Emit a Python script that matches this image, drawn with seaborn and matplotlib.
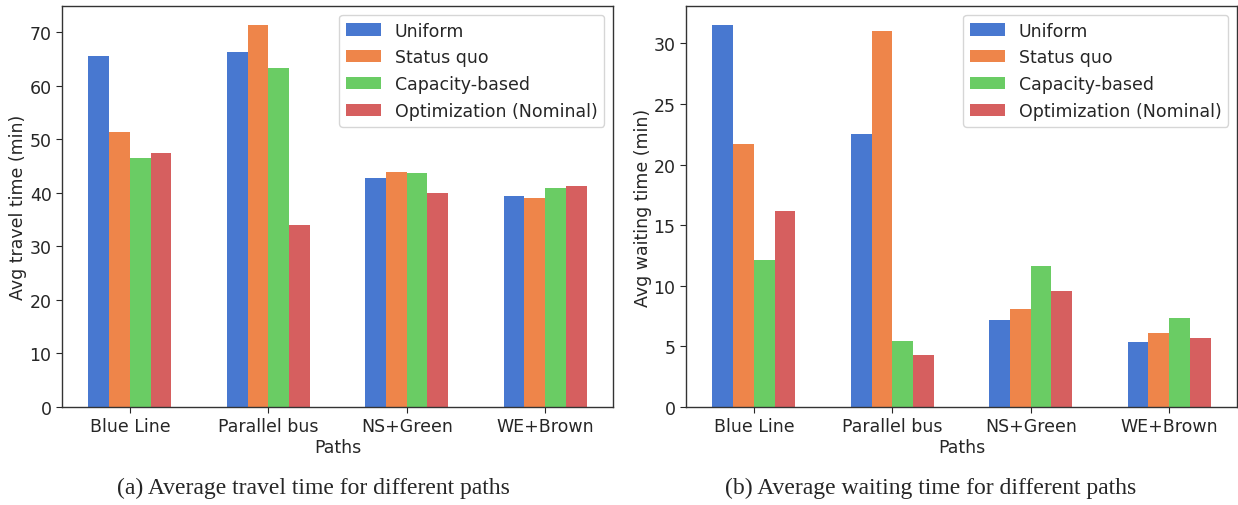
import numpy as np
import pandas as pd
import matplotlib
matplotlib.use("Agg")
import matplotlib.pyplot as plt
import seaborn as sns

paths = ["Blue Line", "Parallel bus", "NS+Green", "WE+Brown"]
strategies = ["Uniform", "Status quo", "Capacity-based", "Optimization (Nominal)"]

# Average travel time (min), one list per strategy, ordered as `paths`
travel_uniform = [65.5, 66.3, 42.8, 39.4]
travel_status_quo = [51.4, 71.3, 43.8, 39.0]
travel_capacity = [46.4, 63.2, 43.6, 40.8]
travel_optimization = [47.4, 34.0, 39.9, 41.3]

# Average waiting time (min)
wait_uniform = [31.5, 22.5, 7.2, 5.4]
wait_status_quo = [21.7, 31.0, 8.05, 6.1]
wait_capacity = [12.1, 5.45, 11.6, 7.3]
wait_optimization = [16.15, 4.25, 9.6, 5.65]

captions = ["(a) Average travel time for different paths",
            "(b) Average waiting time for different paths"]
ylabels = ["Avg travel time (min)", "Avg waiting time (min)"]


def to_long(series):
    rows = []
    for strat, vals in zip(strategies, series):
        for p, v in zip(paths, vals):
            rows.append({"Paths": p, "Strategy": strat, "value": v})
    return pd.DataFrame(rows)


travel_df = to_long([travel_uniform, travel_status_quo, travel_capacity, travel_optimization])
wait_df = to_long([wait_uniform, wait_status_quo, wait_capacity, wait_optimization])

sns.set_style("ticks")
plt.rcParams["font.family"] = ["DejaVu Sans"]
plt.rcParams["axes.edgecolor"] = "#333333"

W, H = 1238, 506
fig = plt.figure(figsize=(W / 100, H / 100), dpi=100)
ax1 = fig.add_axes([62 / W, 1 - 408 / H, 551 / W, 401 / H])
ax2 = fig.add_axes([686 / W, 1 - 408 / H, 551 / W, 401 / H])

palette = sns.color_palette("muted", 4)
fs = 12.5
caption_x = [313 / W, 931 / W]

for ax, df, ylab, cap, cx in zip([ax1, ax2], [travel_df, wait_df], ylabels,
                                 captions, caption_x):
    sns.barplot(data=df, x="Paths", y="value", hue="Strategy", order=paths,
                hue_order=strategies, palette=palette, width=0.6,
                saturation=1, linewidth=0, ax=ax, errorbar=None)
    ax.set_xlim(-0.49, 3.49)
    ax.set_ylabel(ylab, fontsize=fs, labelpad=1.5)
    ax.set_xlabel("Paths", fontsize=fs, labelpad=2)
    ax.tick_params(labelsize=fs, length=4)
    for s in ax.spines.values():
        s.set_visible(True)
        s.set_linewidth(1.0)
    leg = ax.legend(loc="upper right", fontsize=fs, frameon=True,
                    fancybox=True, framealpha=0.8, borderpad=0.4,
                    handlelength=2.0, borderaxespad=0.5)
    leg.get_frame().set_edgecolor("#cccccc")
    fig.text(cx, 1 - 488 / H, cap, ha="center", va="center", fontsize=17,
             family="Liberation Serif")

fig.savefig("out.png", dpi=100)
